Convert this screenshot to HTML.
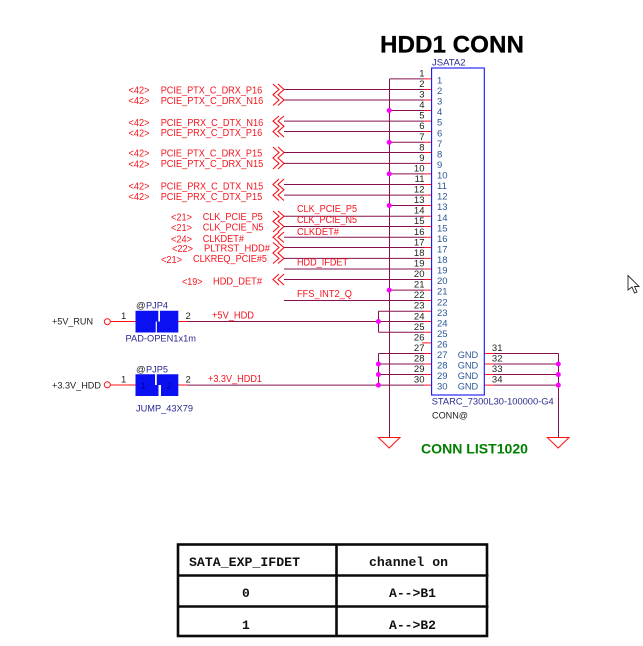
<!DOCTYPE html>
<html><head><meta charset="utf-8">
<style>
html,body{margin:0;padding:0;background:#fff}
svg{display:block}
text{font-family:"Liberation Sans",sans-serif}
.r text{fill:#f5141e;font-size:10px}
.n text{fill:#222;font-size:9.5px;text-anchor:end}
.p text{fill:#2b5797;font-size:9.5px}
.v text{fill:#2a2a90;font-size:9.5px}
.k text{fill:#222;font-size:9.5px}
.t text{font-family:"Liberation Mono",monospace;font-size:13px;font-weight:bold;fill:#111}
</style></head><body>
<svg width="643" height="646" viewBox="0 0 643 646" xmlns="http://www.w3.org/2000/svg">
<rect width="643" height="646" fill="#fff"/>

<text x="380" y="52.5" font-size="24" font-weight="bold" fill="#000" stroke="#000" stroke-width="0.3" textLength="144" lengthAdjust="spacingAndGlyphs">HDD1 CONN</text>
<text x="421" y="453.5" font-size="14" font-weight="bold" fill="#008000" textLength="107" lengthAdjust="spacingAndGlyphs">CONN LIST1020</text>

<!-- wires -->
<g fill="none" stroke="#85104f" stroke-width="1">
<path d="M389.5 78.9V437"/>
<path d="M389.5 78.9H424"/>
<path d="M284 89.5H424M284 100H424M284 121.1H424M284 131.5H424M284 152.5H424M284 163.4H424M284 184.5H424M284 195.1H424"/>
<path d="M389.5 110.5H424M389.5 142.3H424M389.5 173.9H424M389.5 205.5H424M389.5 290.1H424"/>
<path d="M284 216.2H424M284 226.5H424M284 237.3H424M284 247.5H424M284 258.4H424M284 269H424M284 279.5H424M284 300.5H424"/>
<path d="M378.5 311.2H424M378.5 311.2V332.3M378.5 332.3H424"/>
<path d="M187 321.5H424"/>
<path d="M378.5 353.5H424M378.5 353.5V385M378.5 364H424M378.5 374.5H424M187 385.1H424"/>
<path d="M558.5 353.5V437M494 353.5H558.5M494 364H558.5M494 374.5H558.5M494 385.1H558.5"/>
</g>
<g fill="none" stroke="#ff1010" stroke-width="1">
<path d="M424 78.9H431.5M424 89.5H431.5M424 100H431.5M424 110.5H431.5M424 121.1H431.5M424 131.5H431.5M424 142.3H431.5M424 152.5H431.5M424 163.4H431.5M424 173.9H431.5M424 184.5H431.5M424 195.1H431.5M424 205.5H431.5M424 216.2H431.5M424 226.5H431.5M424 237.3H431.5M424 247.5H431.5M424 258.4H431.5M424 269H431.5M424 279.5H431.5M424 290.1H431.5M424 300.5H431.5M424 311.2H431.5M424 321.5H431.5M424 332.3H431.5M422 342.9H431.5M424 353.5H431.5M424 364H431.5M424 374.5H431.5M424 385.1H431.5"/>
<path d="M484 353.5H494M484 364H494M484 374.5H494M484 385.1H494"/>
<path d="M110 321.5H135.5M178 321.5H187M110 385H135.5M178 385H187"/>
<!-- ground -->
<path d="M378.3 437.5H400L389.2 448ZM547.3 437.5H569L558.2 448Z"/>
<!-- open terminals -->
<circle cx="107.3" cy="321.7" r="3"/><circle cx="107.3" cy="384.8" r="3"/>
</g>

<!-- chevrons -->
<g fill="none" stroke="#f5101a" stroke-width="1.1">
<path d="M273 84L279 89.5L273 94.8L279 100L273 105.5M278 84L284 89.5L278 94.8L284 100L278 105.5"/>
<path d="M279 116L273 121.1L279 126.3L273 131.5L279 137M284 116L278 121.1L284 126.3L278 131.5L284 137"/>
<path d="M273 147L279 152.5L273 158L279 163.4L273 169M278 147L284 152.5L278 158L284 163.4L278 169"/>
<path d="M279 179L273 184.5L279 189.8L273 195.1L279 200.5M284 179L278 184.5L284 189.8L278 195.1L284 200.5"/>
<path d="M273 211L279 216.2L273 221.4L279 226.5L273 232M278 211L284 216.2L278 221.4L284 226.5L278 232"/>
<path d="M279 232L273 237.3L279 242.5M284 232L278 237.3L284 242.5"/>
<path d="M273 242.5L279 247.5L273 253L279 258.4L273 263.5M278 242.5L284 247.5L278 253L284 258.4L278 263.5"/>
<path d="M279 274L273 279.5L279 285M284 274L278 279.5L284 285"/>
</g>

<!-- dots -->
<g fill="#ff00ff">
<circle cx="389.2" cy="110.5" r="2.5"/><circle cx="389.2" cy="142.3" r="2.5"/><circle cx="389.2" cy="173.9" r="2.5"/><circle cx="389.2" cy="205.5" r="2.5"/><circle cx="389.2" cy="290.1" r="2.5"/>
<circle cx="378.4" cy="321.5" r="2.5"/><circle cx="378.4" cy="364" r="2.5"/><circle cx="378.4" cy="374.5" r="2.5"/><circle cx="378.4" cy="385.1" r="2.5"/>
<circle cx="558.3" cy="364" r="2.5"/><circle cx="558.3" cy="374.5" r="2.5"/><circle cx="558.3" cy="385.1" r="2.5"/>
</g>

<!-- connector box -->
<rect x="431.6" y="68" width="52.7" height="327" fill="none" stroke="#1414f0" stroke-width="1.1"/>

<!-- pin numbers left -->
<g class="n">
<text x="424.5" y="76.4">1</text><text x="424.5" y="87">2</text><text x="424.5" y="97.5">3</text><text x="424.5" y="108">4</text><text x="424.5" y="118.6">5</text><text x="424.5" y="129.2">6</text><text x="424.5" y="139.8">7</text><text x="424.5" y="150.3">8</text><text x="424.5" y="160.9">9</text><text x="424.5" y="171.4">10</text><text x="424.5" y="182">11</text><text x="424.5" y="192.6">12</text><text x="424.5" y="203.1">13</text><text x="424.5" y="213.7">14</text><text x="424.5" y="224.2">15</text><text x="424.5" y="234.8">16</text><text x="424.5" y="245.4">17</text><text x="424.5" y="255.9">18</text><text x="424.5" y="266.5">19</text><text x="424.5" y="277">20</text><text x="424.5" y="287.6">21</text><text x="424.5" y="298.2">22</text><text x="424.5" y="308.7">23</text><text x="424.5" y="319.3">24</text><text x="424.5" y="329.8">25</text><text x="424.5" y="340.4">26</text><text x="424.5" y="351">27</text><text x="424.5" y="361.5">28</text><text x="424.5" y="372.1">29</text><text x="424.5" y="382.6">30</text>
<text x="502.5" y="351">31</text><text x="502.5" y="361.5">32</text><text x="502.5" y="372.1">33</text><text x="502.5" y="382.6">34</text>
</g>

<!-- pin names inside -->
<g class="p">
<text x="437" y="83.5">1</text><text x="437" y="94.1">2</text><text x="437" y="104.6">3</text><text x="437" y="115.2">4</text><text x="437" y="125.7">5</text><text x="437" y="136.3">6</text><text x="437" y="146.9">7</text><text x="437" y="157.4">8</text><text x="437" y="168">9</text><text x="437" y="178.5">10</text><text x="437" y="189.1">11</text><text x="437" y="199.7">12</text><text x="437" y="210.2">13</text><text x="437" y="220.8">14</text><text x="437" y="231.3">15</text><text x="437" y="241.9">16</text><text x="437" y="252.5">17</text><text x="437" y="263">18</text><text x="437" y="273.6">19</text><text x="437" y="284.1">20</text><text x="437" y="294.7">21</text><text x="437" y="305.3">22</text><text x="437" y="315.8">23</text><text x="437" y="326.4">24</text><text x="437" y="336.9">25</text><text x="437" y="347.5">26</text><text x="437" y="358.1">27</text><text x="437" y="368.6">28</text><text x="437" y="379.2">29</text><text x="437" y="389.7">30</text>
<text x="457.7" y="358.1" textLength="20.5" lengthAdjust="spacingAndGlyphs">GND</text><text x="457.7" y="368.6" textLength="20.5" lengthAdjust="spacingAndGlyphs">GND</text><text x="457.7" y="379.2" textLength="20.5" lengthAdjust="spacingAndGlyphs">GND</text><text x="457.7" y="389.7" textLength="20.5" lengthAdjust="spacingAndGlyphs">GND</text>
</g>

<g class="v">
<text x="432" y="65.5" textLength="33.5" lengthAdjust="spacingAndGlyphs">JSATA2</text>
<text x="431.7" y="404.5" textLength="122" lengthAdjust="spacingAndGlyphs">STARC_7300L30-100000-G4</text>
<text x="146" y="308.5" textLength="22" lengthAdjust="spacingAndGlyphs">PJP4</text>
<text x="146" y="372.5" textLength="22" lengthAdjust="spacingAndGlyphs">PJP5</text>
<text x="125.5" y="341.5" textLength="70.5" lengthAdjust="spacingAndGlyphs">PAD-OPEN1x1m</text>
<text x="136" y="411.5" textLength="57" lengthAdjust="spacingAndGlyphs">JUMP_43X79</text>
</g>
<g class="k">
<text x="432" y="418.5" textLength="36" lengthAdjust="spacingAndGlyphs">CONN@</text>
<text x="136" y="308.5">@</text><text x="136" y="372.5">@</text>
<text x="52" y="324.5" textLength="41" lengthAdjust="spacingAndGlyphs">+5V_RUN</text>
<text x="52" y="388.5" textLength="49" lengthAdjust="spacingAndGlyphs">+3.3V_HDD</text>
<text x="121" y="319">1</text><text x="185.5" y="319">2</text>
<text x="121" y="382.5">1</text><text x="185.5" y="382.5">2</text>
</g>

<!-- jumpers -->
<g fill="#0a10f2">
<path d="M135.5 310.7H158.3V321.5H155.7V332.5H135.5Z"/>
<path d="M160 310.7H178.3V332.5H156.9V321.5H160Z"/>
<path d="M135.5 374.3H155V385H158.5V396H135.5Z"/>
<path d="M156.8 374.3H178.3V396H161V385H156.8Z"/>
</g>
<text x="140.5" y="389" font-size="9.5" fill="#0000a8">1</text>
<text x="166.5" y="389" font-size="9.5" fill="#0000a8">2</text>

<!-- red labels -->
<g class="r">
<text x="128.5" y="93.5" textLength="21" lengthAdjust="spacingAndGlyphs">&lt;42&gt;</text>
<text x="128.5" y="104" textLength="21" lengthAdjust="spacingAndGlyphs">&lt;42&gt;</text>
<text x="128.5" y="126" textLength="21" lengthAdjust="spacingAndGlyphs">&lt;42&gt;</text>
<text x="128.5" y="136.5" textLength="21" lengthAdjust="spacingAndGlyphs">&lt;42&gt;</text>
<text x="128.5" y="156.5" textLength="21" lengthAdjust="spacingAndGlyphs">&lt;42&gt;</text>
<text x="128.5" y="167.5" textLength="21" lengthAdjust="spacingAndGlyphs">&lt;42&gt;</text>
<text x="128.5" y="189.5" textLength="21" lengthAdjust="spacingAndGlyphs">&lt;42&gt;</text>
<text x="128.5" y="200" textLength="21" lengthAdjust="spacingAndGlyphs">&lt;42&gt;</text>
<text x="160.7" y="93.5" textLength="101.5" lengthAdjust="spacingAndGlyphs">PCIE_PTX_C_DRX_P16</text>
<text x="160.7" y="103.8" textLength="102.5" lengthAdjust="spacingAndGlyphs">PCIE_PTX_C_DRX_N16</text>
<text x="160.7" y="125.8" textLength="102.5" lengthAdjust="spacingAndGlyphs">PCIE_PRX_C_DTX_N16</text>
<text x="160.7" y="136.2" textLength="101.5" lengthAdjust="spacingAndGlyphs">PCIE_PRX_C_DTX_P16</text>
<text x="160.7" y="156.3" textLength="101.5" lengthAdjust="spacingAndGlyphs">PCIE_PTX_C_DRX_P15</text>
<text x="160.7" y="167" textLength="102.5" lengthAdjust="spacingAndGlyphs">PCIE_PTX_C_DRX_N15</text>
<text x="160.7" y="189.3" textLength="102.5" lengthAdjust="spacingAndGlyphs">PCIE_PRX_C_DTX_N15</text>
<text x="160.7" y="199.8" textLength="101.5" lengthAdjust="spacingAndGlyphs">PCIE_PRX_C_DTX_P15</text>

<text x="171" y="220.5" textLength="21" lengthAdjust="spacingAndGlyphs">&lt;21&gt;</text>
<text x="171" y="231" textLength="21" lengthAdjust="spacingAndGlyphs">&lt;21&gt;</text>
<text x="171" y="242.5" textLength="21" lengthAdjust="spacingAndGlyphs">&lt;24&gt;</text>
<text x="172" y="252" textLength="21" lengthAdjust="spacingAndGlyphs">&lt;22&gt;</text>
<text x="161" y="263" textLength="21" lengthAdjust="spacingAndGlyphs">&lt;21&gt;</text>
<text x="182" y="285" textLength="20.5" lengthAdjust="spacingAndGlyphs">&lt;19&gt;</text>
<text x="202.7" y="220.2" textLength="60" lengthAdjust="spacingAndGlyphs">CLK_PCIE_P5</text>
<text x="202.7" y="230.5" textLength="60.8" lengthAdjust="spacingAndGlyphs">CLK_PCIE_N5</text>
<text x="202.7" y="242" textLength="41.3" lengthAdjust="spacingAndGlyphs">CLKDET#</text>
<text x="204" y="251.5" textLength="66" lengthAdjust="spacingAndGlyphs">PLTRST_HDD#</text>
<text x="193" y="262" textLength="74" lengthAdjust="spacingAndGlyphs">CLKREQ_PCIE#5</text>
<text x="213" y="284.5" textLength="49" lengthAdjust="spacingAndGlyphs">HDD_DET#</text>

<text x="297" y="212" textLength="60" lengthAdjust="spacingAndGlyphs">CLK_PCIE_P5</text>
<text x="297" y="223" textLength="60" lengthAdjust="spacingAndGlyphs">CLK_PCIE_N5</text>
<text x="297" y="235" textLength="42" lengthAdjust="spacingAndGlyphs">CLKDET#</text>
<text x="297" y="265.5" textLength="51" lengthAdjust="spacingAndGlyphs">HDD_IFDET</text>
<text x="297" y="297" textLength="55" lengthAdjust="spacingAndGlyphs">FFS_INT2_Q</text>
<text x="212" y="318.5" textLength="42" lengthAdjust="spacingAndGlyphs">+5V_HDD</text>
<text x="208" y="382" textLength="54" lengthAdjust="spacingAndGlyphs">+3.3V_HDD1</text>
</g>

<!-- cursor -->
<path d="M628 275.5V290L632 287L634.5 293L637 292L634.5 286.5H639Z" fill="#fff" stroke="#222" stroke-width="0.9"/>

<!-- table -->
<g fill="none" stroke="#0a0a0a" stroke-width="2.6">
<rect x="178" y="544.5" width="309" height="91.5"/>
<path d="M336.5 544V636M178 575.5H488.5M178 606.5H488.5"/>
</g>
<g class="t">
<text x="189" y="566" textLength="111" lengthAdjust="spacingAndGlyphs">SATA_EXP_IFDET</text>
<text x="369" y="566" textLength="79" lengthAdjust="spacingAndGlyphs">channel on</text>
<text x="242" y="597">0</text>
<text x="389" y="597" textLength="47" lengthAdjust="spacingAndGlyphs">A--&gt;B1</text>
<text x="242" y="629">1</text>
<text x="389" y="629" textLength="47" lengthAdjust="spacingAndGlyphs">A--&gt;B2</text>
</g>
</svg>
</body></html>
